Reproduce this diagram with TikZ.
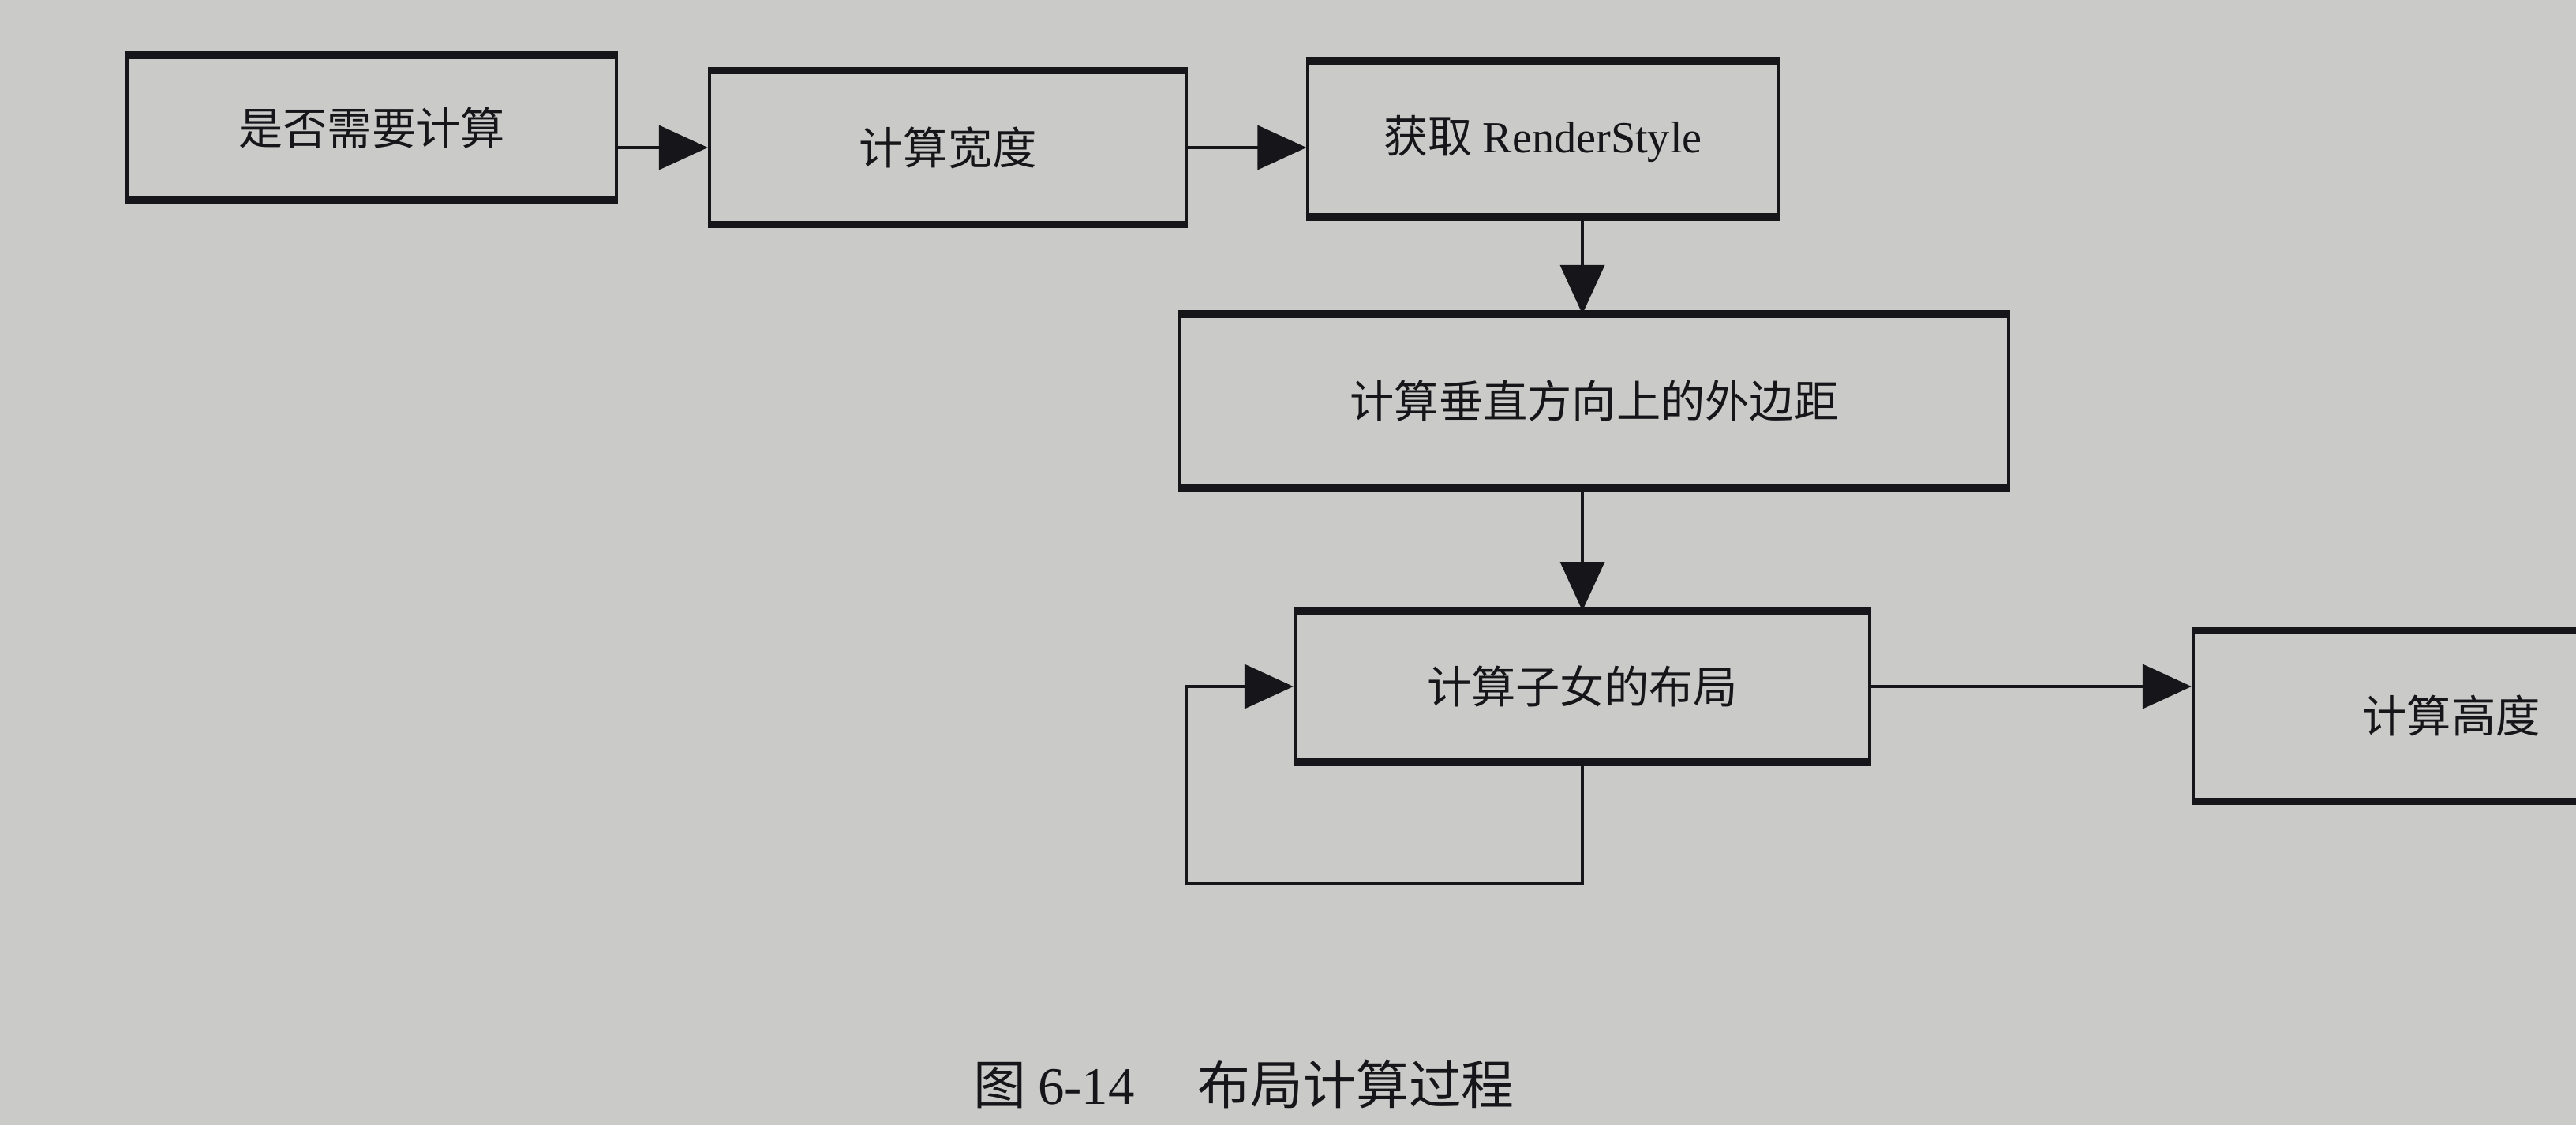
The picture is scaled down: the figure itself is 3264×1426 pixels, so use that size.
\documentclass[tikz,border=0pt]{standalone}
\usepackage{fontspec}
\setmainfont{Liberation Serif}
\newfontfamily\cjk{Noto Sans CJK SC}
\usetikzlibrary{arrows.meta,calc}
\definecolor{paper}{RGB}{202,202,200}
\definecolor{ink}{RGB}{22,22,26}
\tikzset{
  stepbox/.style={draw=ink, line width=1.1pt, inner sep=0pt, text=ink,
    font=\cjk\fontsize{16}{16}\selectfont},
  thickedge/.style={draw=ink, line width=2.6pt},
  arr/.style={draw=ink, line width=1pt, -{Triangle[length=0.62cm,width=0.56cm]}},
  loopline/.style={draw=ink, line width=1pt},
}
\begin{document}
\begin{tikzpicture}[x=0.01cm,y=0.01cm]
\useasboundingbox (0,0) rectangle (3264,-1426);
\fill[paper] (0,0) rectangle (3264,-1426);
\clip (0,0) rectangle (3264,-1426);

\node[stepbox, minimum width=6.19cm, minimum height=1.80cm] (b1) at (471,-162) {是否需要计算};
\node[stepbox, minimum width=6.04cm, minimum height=1.91cm] (b2) at (1201,-187) {计算宽度};
\node[stepbox, minimum width=5.95cm, minimum height=1.94cm] (b3) at (1955,-176) {获取 {\rmfamily RenderStyle}};
\node[stepbox, minimum width=10.49cm, minimum height=2.16cm] (b4) at (2020,-508) {计算垂直方向上的外边距};
\node[stepbox, minimum width=7.28cm, minimum height=1.88cm] (b5) at (2005,-870) {计算子女的布局};
\node[stepbox, minimum width=6.54cm, minimum height=2.13cm] (b6) at (3106,-907) {计算高度};

\foreach \n in {b1,b2,b3,b4,b5,b6}{
  \draw[thickedge] (\n.north west) -- (\n.north east);
  \draw[thickedge] (\n.south west) -- (\n.south east);
}

\coordinate (lc) at (1503,-1120);

\draw[arr] (b1.east |- b2.west) -- (b2.west);
\draw[arr] (b2.east) -- (b3.west |- b2.east);
\draw[arr] (b3.south -| b5.north) -- (b4.north -| b5.north);
\draw[arr] (b4.south -| b5.north) -- (b5.north);
\draw[arr] (b5.east) -- (b6.west |- b5.east);
\draw[arr] (b5.south) |- (lc) |- (b5.west);

\node[text=ink, font=\cjk\fontsize{19}{19}\selectfont] (cap) at (1576,-1374)
  {图 {\rmfamily 6-14}\hspace{1.2em}布局计算过程};
\end{tikzpicture}
\end{document}
